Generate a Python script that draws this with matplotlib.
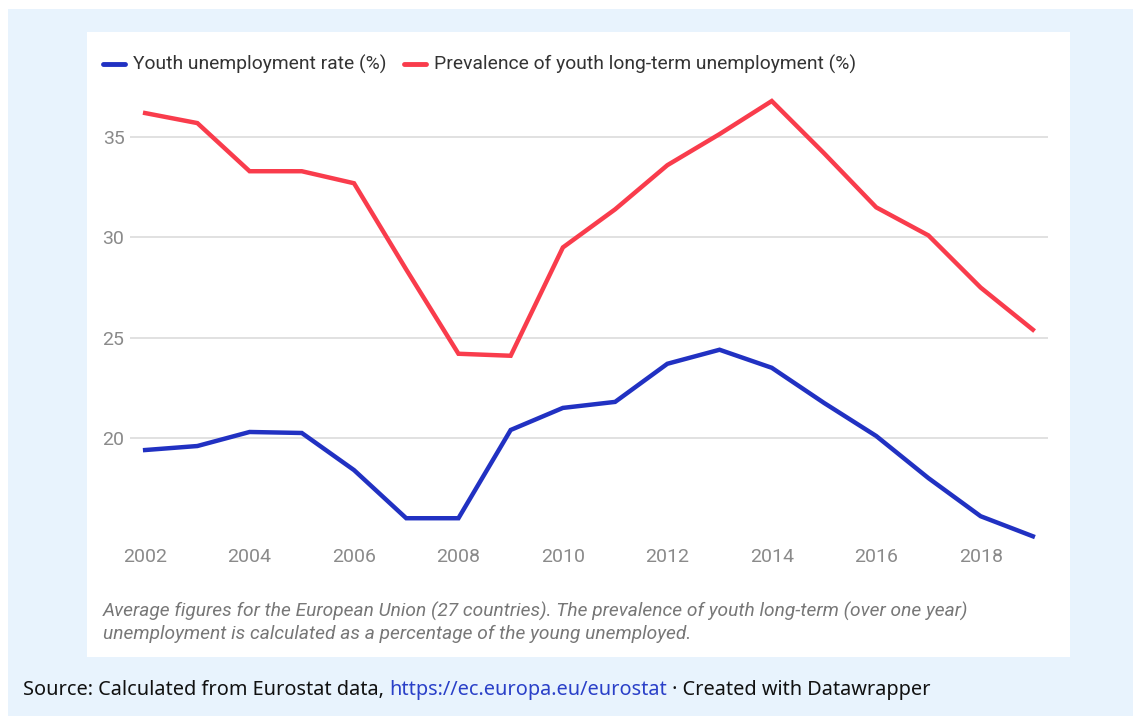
import matplotlib
matplotlib.use("Agg")
import matplotlib.pyplot as plt
from matplotlib.patches import Rectangle

years = list(range(2002, 2020))
youth_unemployment = [19.4, 19.6, 20.3, 20.25, 18.4, 16.0, 16.0, 20.4, 21.5, 21.8,
                      23.7, 24.4, 23.5, 21.75, 20.1, 18.0, 16.1, 15.1]
long_term_prevalence = [36.2, 35.7, 33.3, 33.3, 32.7, 28.4, 24.2, 24.1, 29.5, 31.4,
                        33.6, 35.15, 36.8, 34.2, 31.5, 30.1, 27.5, 25.4]
y_ticks = [20, 25, 30, 35]
x_ticks = list(range(2002, 2019, 2))
series_names = ["Youth unemployment rate (%)", "Prevalence of youth long-term unemployment (%)"]

BLUE = "#2131c2"
RED = "#f93c4c"
BG = "#e8f3fd"

W, H = 1133, 716
fig = plt.figure(figsize=(W / 100, H / 100), dpi=100)
fig.patch.set_facecolor("white")

def px(x, y):
    return x / W, 1 - y / H

# outer light-blue background and white panel
fig.patches.append(Rectangle(px(8, 716), (W - 8) / W, (716 - 9) / H,
                             transform=fig.transFigure, facecolor=BG, edgecolor="none", zorder=-2))
fig.patches.append(Rectangle(px(87, 657), (1070 - 87) / W, (657 - 32) / H,
                             transform=fig.transFigure, facecolor="white", edgecolor="none", zorder=-1))

left, right = 130 / W, 1048 / W
bottom, top = 1 - 542.3 / H, 1 - 93 / H
ax = fig.add_axes([left, bottom, right - left, top - bottom])
ax.set_zorder(2)
ax.set_facecolor("none")
ax.set_xlim(2001.71, 2019.29)
ax.set_ylim(14.8, 37.2)

for v in y_ticks:
    ax.axhline(v, color="#d9d9d9", lw=1.1, zorder=1)

ax.plot(years, youth_unemployment, color=BLUE, lw=3.2, solid_joinstyle="miter", zorder=3)
ax.plot(years, long_term_prevalence, color=RED, lw=3.2, solid_joinstyle="miter", zorder=3)

for s in ax.spines.values():
    s.set_visible(False)
ax.set_yticks(y_ticks)
ax.set_yticklabels([str(v) for v in y_ticks])
ax.set_xticks(x_ticks)
ax.set_xticklabels([str(v) for v in x_ticks])
ax.tick_params(axis="both", length=0, colors="#888888", labelsize=14)
ax.tick_params(axis="y", pad=4)
ax.tick_params(axis="x", pad=4)
for lab in ax.get_xticklabels() + ax.get_yticklabels():
    lab.set_family("Roboto")
    lab.set_color("#8a8a8a")

# legend
fx, fy = px(103, 64)
fig.add_artist(plt.Line2D([103 / W, 125 / W], [fy, fy], color=BLUE, lw=3.5,
                          solid_capstyle="round", transform=fig.transFigure))
fig.text(133 / W, fy, series_names[0], family="Roboto", fontsize=13.9,
         color="#333333", va="center", ha="left")
fig.add_artist(plt.Line2D([404 / W, 426 / W], [fy, fy], color=RED, lw=3.5,
                          solid_capstyle="round", transform=fig.transFigure))
fig.text(434 / W, fy, series_names[1], family="Roboto", fontsize=13.9,
         color="#333333", va="center", ha="left")

# notes
note1 = "Average figures for the European Union (27 countries). The prevalence of youth long-term (over one year)"
note2 = "unemployment is calculated as a percentage of the young unemployed."
fig.text(103 / W, 1 - 611 / H, note1, family="Roboto", style="italic", fontsize=13.8,
         color="#777777", va="center", ha="left")
fig.text(103 / W, 1 - 634 / H, note2, family="Roboto", style="italic", fontsize=13.8,
         color="#777777", va="center", ha="left")

# source line
t1 = fig.text(23 / W, 1 - 690 / H, "Source: Calculated from Eurostat data, ",
              family="Noto Sans", fontsize=14.35, color="#111111", va="center", ha="left")
fig.canvas.draw()
r = fig.canvas.get_renderer()
bb = t1.get_window_extent(r)
t2 = fig.text(bb.x1 / W, 1 - 690 / H, "https://ec.europa.eu/eurostat",
              family="Noto Sans", fontsize=14.35, color="#2a40c8", va="center", ha="left")
bb2 = t2.get_window_extent(r)
fig.text(bb2.x1 / W, 1 - 690 / H, " · Created with Datawrapper",
         family="Noto Sans", fontsize=14.35, color="#111111", va="center", ha="left")

fig.savefig("out.png", dpi=100, facecolor=fig.get_facecolor())
